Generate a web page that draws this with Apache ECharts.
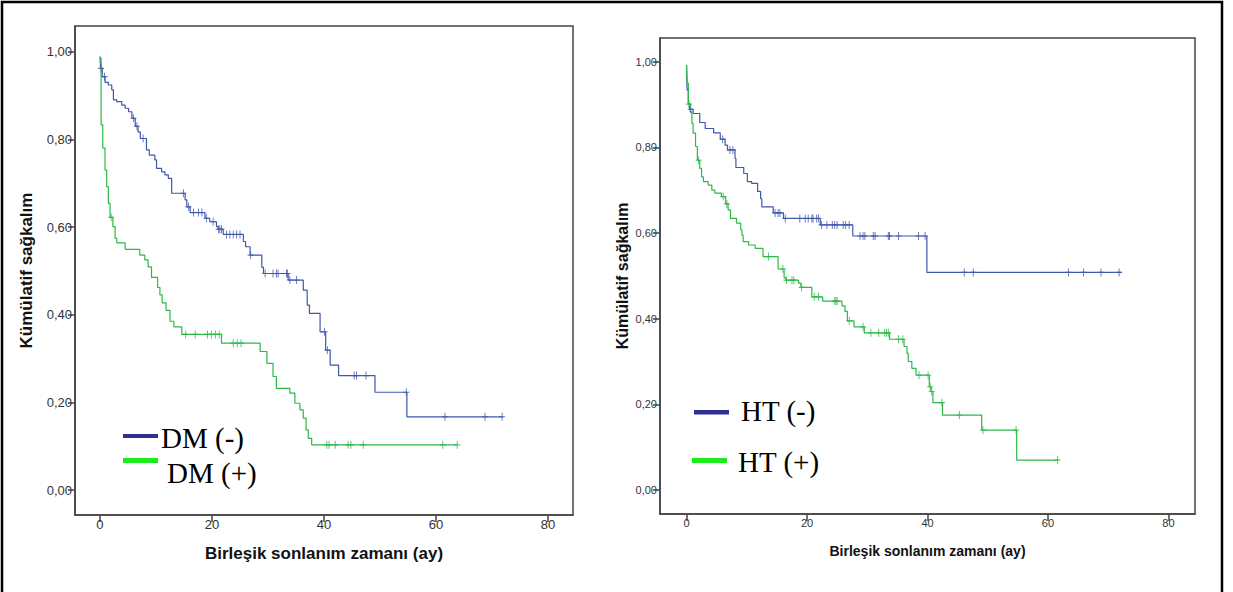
<!DOCTYPE html>
<html>
<head>
<meta charset="utf-8">
<script src="https://cdn.jsdelivr.net/npm/echarts@6/dist/echarts.min.js"></script>
<style>
  html, body { margin: 0; padding: 0; background: #fff; }
  #chart { width: 1233px; height: 592px; }
</style>
</head>
<body>
<div id="chart"></div>
<script>
// DM panel (left)
var dmNegTime = [0, 0.1, 0.4, 0.9, 1.5, 2.1, 2.4, 3.0, 3.9, 4.5, 5.1, 5.7, 6.3, 6.8, 7.2, 8.3, 8.8, 9.8, 10.1, 11.0,
    11.6, 12.2, 12.8, 15.2, 15.5, 16.1, 18.75, 19.6, 20.8, 21.1, 22.0, 25.6, 26.0, 26.8, 28.9, 29.2, 33.6, 36.3, 37.0,
    37.4, 39.3, 40.3, 41.1, 42.6, 49.1, 54.8, 72.0];
var dmNegSurv = [0.989, 0.962, 0.943, 0.93, 0.924, 0.913, 0.89, 0.886, 0.878, 0.871, 0.863, 0.848, 0.83, 0.817, 0.802,
    0.776, 0.764, 0.753, 0.734, 0.726, 0.719, 0.711, 0.677, 0.662, 0.646, 0.633, 0.62, 0.612, 0.601, 0.595, 0.583,
    0.567, 0.555, 0.536, 0.508, 0.494, 0.479, 0.456, 0.422, 0.403, 0.361, 0.319, 0.285, 0.261, 0.223, 0.167, 0.167];
var dmNegCens = [0.2, 0.8, 6.0, 6.6, 7.7, 14.9, 15.8, 16.7, 17.6, 18.2, 19.0, 20.2, 21.2, 21.4, 21.7, 22.6, 23.2, 23.8,
    24.4, 25.0, 26.9, 29.5, 30.9, 31.5, 31.8, 33.3, 33.5, 33.9, 35.1, 40.1, 40.6, 45.4, 45.8, 47.5, 54.7, 61.6, 68.75, 71.8];

var dmPosTime = [0, 0.2, 0.5, 0.9, 1.2, 1.5, 1.8, 2.3, 2.7, 3.0, 4.5, 7.1, 8.0, 8.6, 9.2, 10.3, 10.7, 11.1, 11.8, 12.5,
    13.2, 14.6, 21.7, 28.6, 29.8, 30.9, 31.5, 33.9, 34.8, 35.7, 36.3, 36.8, 37.2, 37.8, 63.8];
var dmPosSurv = [0.985, 0.833, 0.78, 0.73, 0.692, 0.654, 0.622, 0.601, 0.574, 0.564, 0.549, 0.536, 0.525, 0.509, 0.485,
    0.462, 0.445, 0.427, 0.41, 0.385, 0.372, 0.355, 0.335, 0.316, 0.289, 0.259, 0.232, 0.221, 0.198, 0.183, 0.164,
    0.137, 0.118, 0.103, 0.103];
var dmPosCens = [2.0, 15.3, 17.0, 19.2, 19.9, 20.6, 21.3, 23.8, 24.5, 25.2, 40.5, 40.9, 42.0, 44.3, 44.8, 47.0, 61.2, 63.8];

// HT panel (right)
var htNegTime = [0, 0.1, 0.3, 0.5, 1.1, 2.2, 3.1, 4.5, 5.6, 6.4, 6.8, 8.05, 8.2, 9.5, 10.1, 10.8, 11.8, 12.3, 12.5,
    14.4, 16.1, 22.2, 27.6, 39.9, 72.2];
var htNegSurv = [0.992, 0.934, 0.903, 0.889, 0.879, 0.858, 0.844, 0.834, 0.819, 0.805, 0.794, 0.774, 0.753, 0.739,
    0.72, 0.716, 0.697, 0.68, 0.661, 0.647, 0.634, 0.619, 0.593, 0.508, 0.508];
var htNegCens = [0.7, 6.0, 7.2, 7.7, 14.7, 15.2, 15.5, 16.4, 18.8, 19.7, 20.2, 20.8, 21.0, 21.6, 21.9, 22.4, 23.3, 24.2,
    24.6, 25.0, 26.0, 26.4, 27.0, 28.8, 29.3, 29.6, 31.0, 31.3, 33.5, 33.7, 35.2, 38.5, 39.6, 46.1, 47.6, 63.4, 65.9,
    68.8, 71.8];

var htPosTime = [0, 0.1, 0.3, 0.6, 0.9, 1.1, 1.5, 1.8, 2.2, 2.5, 2.8, 3.6, 4.2, 4.7, 5.8, 6.5, 6.9, 7.3, 8.3, 9.0, 9.2,
    9.4, 10.3, 11.4, 12.7, 15.2, 16.2, 16.5, 18.6, 19.0, 20.8, 22.6, 25.8, 26.3, 26.7, 27.8, 29.5, 33.7, 36.1, 36.6,
    36.8, 37.4, 38.1, 40.3, 40.6, 40.9, 42.5, 49.0, 54.8, 61.8];
var htPosSurv = [0.992, 0.95, 0.901, 0.883, 0.856, 0.833, 0.802, 0.77, 0.751, 0.731, 0.72, 0.712, 0.70, 0.693, 0.685,
    0.668, 0.654, 0.634, 0.623, 0.607, 0.595, 0.58, 0.572, 0.564, 0.545, 0.516, 0.496, 0.49, 0.483, 0.473, 0.451,
    0.441, 0.43, 0.417, 0.395, 0.381, 0.367, 0.352, 0.335, 0.319, 0.30, 0.284, 0.268, 0.241, 0.23, 0.204, 0.175,
    0.14, 0.07, 0.07];
var htPosCens = [0.4, 2.0, 6.1, 6.7, 13.6, 16.0, 16.6, 17.5, 17.8, 19.1, 21.2, 21.9, 24.6, 24.8, 25.0, 27.0, 29.3, 30.6,
    31.9, 32.9, 33.2, 33.5, 35.2, 35.9, 38.6, 40.1, 40.45, 40.7, 42.4, 45.3, 49.2, 54.7, 61.6];

var xTicks = [0, 20, 40, 60, 80];
var yTicks = [0, 0.2, 0.4, 0.6, 0.8, 1.0];

var BLUE = '#3E58AC', GREEN = '#2EB848';
var PLUS = 'path://M4.2,0H5.8V4.3H10V5.7H5.8V10H4.2V5.7H0V4.3H4.2Z';

function pairs(times, surv) {
    return times.map(function (t, i) { return [t, surv[i]]; });
}

// censored points sit on the curve at their time
function censored(cens, times, surv) {
    return cens.map(function (c) {
        var s = surv[0];
        for (var i = 0; i < times.length; i++) {
            if (times[i] <= c) s = surv[i];
        }
        return [c, s];
    });
}

function commaFmt(v) {
    return v.toFixed(2).replace('.', ',');
}

function xAxisConf(idx, min, max, fontSize, family, nameSize, gap) {
    return {
        gridIndex: idx, type: 'value', min: min, max: max,
        axisLine: { onZero: false, lineStyle: { color: '#444', width: 1.5 } },
        axisTick: { customValues: xTicks, length: 7, lineStyle: { color: '#444', width: 1.5 } },
        axisLabel: { customValues: xTicks, margin: 3, color: '#333', fontSize: fontSize, fontFamily: family },
        splitLine: { show: false },
        name: 'Birleşik sonlanım zamanı (ay)', nameLocation: 'middle', nameGap: gap,
        nameTextStyle: { fontWeight: 'bold', fontSize: nameSize, color: '#111', fontFamily: 'Liberation Sans, Arial, sans-serif' }
    };
}

function yAxisConf(idx, min, max, fontSize, family, nameSize, gap) {
    return {
        gridIndex: idx, type: 'value', min: min, max: max,
        axisLine: { onZero: false, lineStyle: { color: '#444', width: 1.5 } },
        axisTick: { customValues: yTicks, length: 7, lineStyle: { color: '#444', width: 1.5 } },
        axisLabel: { customValues: yTicks, margin: 3, color: '#333', fontSize: fontSize, fontFamily: family, formatter: commaFmt },
        splitLine: { show: false },
        name: 'Kümülatif sağkalım', nameLocation: 'middle', nameGap: gap,
        nameTextStyle: { fontWeight: 'bold', fontSize: nameSize, color: '#111', fontFamily: 'Liberation Sans, Arial, sans-serif' }
    };
}

function curve(idx, name, times, surv, color) {
    return {
        type: 'line', name: name, xAxisIndex: idx, yAxisIndex: idx, step: 'end',
        data: pairs(times, surv), symbol: 'none', lineStyle: { color: color, width: 1.2 }, z: 2
    };
}

function marks(idx, name, cens, times, surv, color) {
    return {
        type: 'scatter', name: name, xAxisIndex: idx, yAxisIndex: idx,
        data: censored(cens, times, surv), symbol: PLUS, symbolSize: [6, 8],
        symbolKeepAspect: false, itemStyle: { color: color }, z: 3
    };
}

var narrow = 'Liberation Sans Narrow, Arial Narrow, Liberation Sans, sans-serif';
var regular = 'Liberation Sans, Arial, sans-serif';
var serif = '29px "Liberation Serif", "Times New Roman", serif';

var option = {
    animation: false,
    backgroundColor: '#fff',
    grid: [
        { left: 75, top: 26, width: 498, height: 489, show: true, borderColor: '#444', borderWidth: 1.5 },
        { left: 660, top: 38, width: 535, height: 476, show: true, borderColor: '#444', borderWidth: 1.5 }
    ],
    xAxis: [
        xAxisConf(0, -4.46, 84.46, 13, regular, 17, 30),
        xAxisConf(1, -4.4, 84.4, 11, narrow, 14, 30)
    ],
    yAxis: [
        yAxisConf(0, -0.057, 1.0586, 13, regular, 17, 40),
        yAxisConf(1, -0.056, 1.0553, 11, narrow, 16, 30)
    ],
    series: [
        curve(0, 'DM (-)', dmNegTime, dmNegSurv, BLUE),
        marks(0, 'DM (-) sansür', dmNegCens, dmNegTime, dmNegSurv, BLUE),
        curve(0, 'DM (+)', dmPosTime, dmPosSurv, GREEN),
        marks(0, 'DM (+) sansür', dmPosCens, dmPosTime, dmPosSurv, GREEN),
        curve(1, 'HT (-)', htNegTime, htNegSurv, BLUE),
        marks(1, 'HT (-) sansür', htNegCens, htNegTime, htNegSurv, BLUE),
        curve(1, 'HT (+)', htPosTime, htPosSurv, GREEN),
        marks(1, 'HT (+) sansür', htPosCens, htPosTime, htPosSurv, GREEN)
    ],
    graphic: [
        // outer frame: left, top and right edges only
        { type: 'polyline', shape: { points: [[2, 592], [2, 2], [1222, 2], [1222, 592]] }, style: { fill: 'none', stroke: '#000', lineWidth: 2.5 }, silent: true },
        // hand-made legends
        { type: 'rect', shape: { x: 123, y: 434, width: 35, height: 4 }, style: { fill: '#2E3192' } },
        { type: 'rect', shape: { x: 123, y: 458, width: 35, height: 5 }, style: { fill: '#1EEB1E' } },
        { type: 'text', x: 161, y: 438, style: { text: 'DM (-)', font: serif, fill: '#000', verticalAlign: 'middle' } },
        { type: 'text', x: 167, y: 473, style: { text: 'DM (+)', font: serif, fill: '#000', verticalAlign: 'middle' } },
        { type: 'rect', shape: { x: 694, y: 410, width: 35, height: 4.5 }, style: { fill: '#2E3192' } },
        { type: 'rect', shape: { x: 692, y: 458, width: 35, height: 5 }, style: { fill: '#1EEB1E' } },
        { type: 'text', x: 741, y: 411, style: { text: 'HT (-)', font: serif, fill: '#000', verticalAlign: 'middle' } },
        { type: 'text', x: 738, y: 462, style: { text: 'HT (+)', font: serif, fill: '#000', verticalAlign: 'middle' } }
    ]
};

var chart = echarts.init(document.getElementById('chart'), null, { renderer: 'svg' });
chart.setOption(option);
</script>
</body>
</html>
